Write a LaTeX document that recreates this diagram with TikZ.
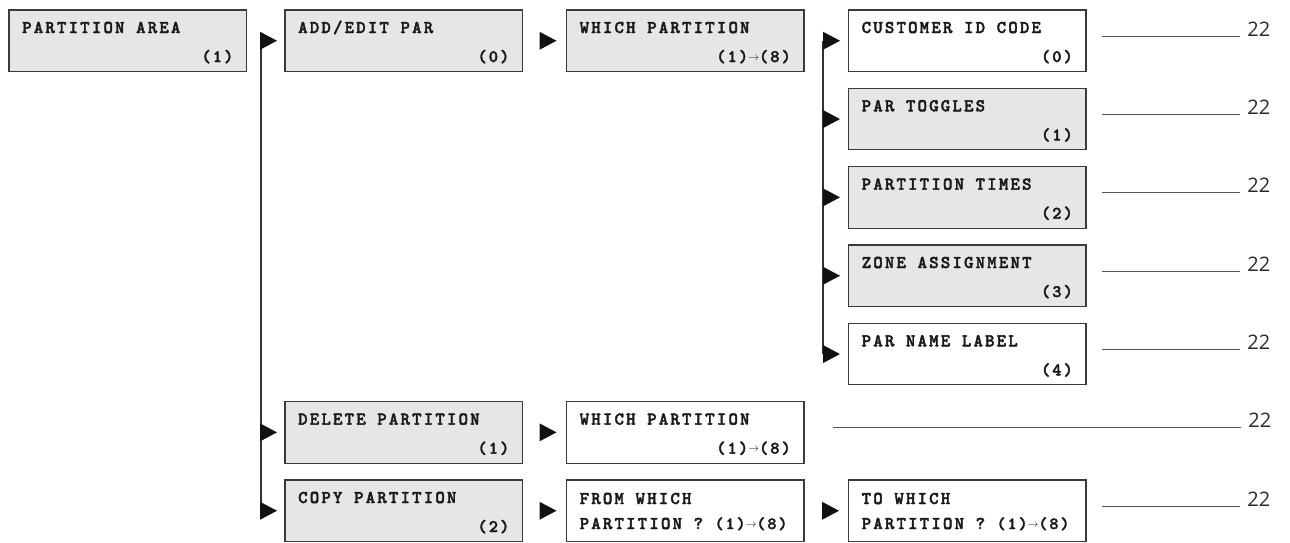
\documentclass[tikz,border=0pt]{standalone}
\usepackage{fontspec}
\newfontfamily\bxfont[LetterSpace=12, FakeBold=2.2]{lmmonolt10-bold.otf}
\newfontfamily\numfont{Open Sans}
\usetikzlibrary{calc}
\definecolor{boxgray}{HTML}{E6E6E6}
\definecolor{boxline}{HTML}{3A3A3A}
\definecolor{tric}{HTML}{111111}
\definecolor{linec}{HTML}{333333}
\definecolor{rulec}{HTML}{555555}
\definecolor{numc}{HTML}{2A2A2A}
\definecolor{txtc}{HTML}{1A1A1A}
\tikzset{
  mbox/.style={draw=boxline, line width=1.2pt, minimum width=237.5pt, minimum height=61.5pt,
    anchor=north west, inner sep=0pt, outer sep=0pt},
  gbox/.style={mbox, fill=boxgray},
  wbox/.style={mbox, fill=white},
  ttl/.style={anchor=base west, inner sep=0pt, text=txtc, font=\bxfont\bfseries\fontsize{18}{20}\selectfont},
  nbr/.style={anchor=base east, inner sep=0pt, text=txtc, font=\bxfont\bfseries\fontsize{17.5}{18}\selectfont},
  trunk/.style={draw=linec, line width=1.3pt},
  rulel/.style={draw=rulec, line width=0.9pt},
  pg/.style={anchor=base west, inner sep=0pt, text=numc, font=\numfont\fontsize{20}{22}\selectfont},
}
\newcommand\myra{\raisebox{1.8pt}{\fontsize{10.5}{11}\selectfont$\rightarrow$}}
\newcommand\mkbox[6]{%
  \node[#4] (#1) at (#2,#3) {};
  \node[ttl] (#1t) at ([xshift=13pt,yshift=-23pt]#1.north west) {#5};
  \node[nbr] (#1n) at ([xshift=-13pt,yshift=-52pt]#1.north east) {#6};}
\newcommand\mktwo[6]{%
  \node[#4] (#1) at (#2,#3) {};
  \node[ttl] (#1t) at ([xshift=13pt,yshift=-24pt]#1.north west) {#5};
  \node[ttl] (#1n) at ([xshift=13pt,yshift=-49pt]#1.north west) {#6};}
\newcommand\tri[2]{\fill[tric] ([xshift=-#2pt]#1.west) -- ++(-17pt,9pt) -- ++(0,-18pt) -- cycle;}
\newcommand\rl[1]{\draw[rulel] ([xshift=16pt,yshift=-26pt]#1.north east) -- ++(138pt,0) node[pg, xshift=7pt] {22};}
\begin{document}
\begin{tikzpicture}[x=1pt,y=-1pt]
\useasboundingbox (0,0) rectangle (1290,542);
\mkbox{b1}{9}{10}{gbox}{PARTITION AREA}{(1)}
\mkbox{add}{285}{10}{gbox}{ADD/EDIT PAR}{(0)}
\mkbox{wp}{566.5}{10}{gbox}{WHICH PARTITION}{(1)\myra(8)}
\mkbox{cust}{848.5}{10}{wbox}{CUSTOMER ID CODE}{(0)}
\mkbox{tog}{848.5}{88.3}{gbox}{PAR TOGGLES}{(1)}
\mkbox{times}{848.5}{166.6}{gbox}{PARTITION TIMES}{(2)}
\mkbox{zone}{848.5}{245}{gbox}{ZONE ASSIGNMENT}{(3)}
\mkbox{name}{848.5}{323.3}{wbox}{PAR NAME LABEL}{(4)}
\mkbox{del}{285}{401.6}{gbox}{DELETE PARTITION}{(1)}
\mkbox{wptwo}{566.5}{401.6}{wbox}{WHICH PARTITION}{(1)\myra(8)}
\mkbox{copy}{285}{480}{gbox}{COPY PARTITION}{(2)}
\mktwo{from}{566.5}{480}{wbox}{FROM WHICH}{PARTITION ? {\fontsize{17}{18}\selectfont(1)\myra(8)}}
\mktwo{to}{848.5}{480}{wbox}{TO WHICH}{PARTITION ? {\fontsize{17}{18}\selectfont(1)\myra(8)}}
% trunks
\draw[trunk] ([xshift=-24pt]add.west) -- ([xshift=-24pt]copy.west);
\draw[trunk] ([xshift=-25.5pt]cust.west) -- ([xshift=-25.5pt]name.west);
% arrowheads
\tri{add}{8}\tri{del}{8}\tri{copy}{8}
\tri{wp}{10}\tri{wptwo}{10}\tri{from}{10}
\tri{cust}{8.5}\tri{tog}{8.5}\tri{times}{8.5}\tri{zone}{8.5}\tri{name}{8.5}
\tri{to}{9.5}
% rules
\rl{cust}\rl{tog}\rl{times}\rl{zone}\rl{name}\rl{to}
\draw[rulel] ([xshift=29pt,yshift=-26pt]wptwo.north east) -- ++(408pt,0) node[pg, xshift=7pt] {22};
\end{tikzpicture}
\end{document}
